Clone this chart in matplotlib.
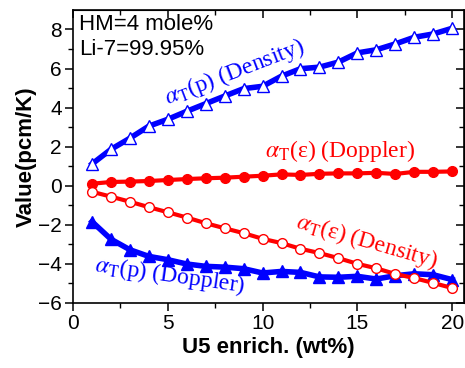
import matplotlib
matplotlib.use("Agg")
import matplotlib.pyplot as plt
import numpy as np

plt.rcParams["mathtext.fontset"] = "stix"

enrich = list(range(1, 21))
density_p = [1.11, 1.86, 2.43, 3.05, 3.40, 3.81, 4.20, 4.59, 4.97, 5.09,
             5.61, 5.99, 6.07, 6.33, 6.80, 6.96, 7.26, 7.60, 7.77, 8.06]
doppler_e = [0.10, 0.19, 0.21, 0.24, 0.29, 0.34, 0.38, 0.41, 0.46, 0.51,
             0.58, 0.55, 0.61, 0.63, 0.63, 0.66, 0.60, 0.71, 0.71, 0.73]
density_e = [-0.31, -0.56, -0.82, -1.10, -1.36, -1.63, -1.92, -2.18, -2.43, -2.72,
             -2.94, -3.23, -3.45, -3.71, -4.00, -4.23, -4.52, -4.73, -4.98, -5.24]
doppler_p = [-1.84, -2.74, -3.28, -3.62, -3.79, -4.01, -4.13, -4.17, -4.25, -4.47,
             -4.39, -4.44, -4.67, -4.69, -4.64, -4.78, -4.61, -4.51, -4.56, -4.81]

blue = "#0000ff"
red = "#ff0000"

fig = plt.figure(figsize=(4.65, 3.68), dpi=100)
ax = fig.add_axes([0.157, 0.177, 0.841, 0.796])

ax.plot(enrich, density_p, color=blue, lw=4, marker="^", ms=8,
        mfc="white", mec=blue, mew=1.0, zorder=3)
ax.plot(enrich, doppler_p, color=blue, lw=4, marker="^", ms=8,
        mfc=blue, mec=blue, zorder=3)
ax.plot(enrich, doppler_e, color=red, lw=3, marker="o", ms=7,
        mfc=red, mec=red, zorder=4)
ax.plot(enrich, density_e, color=red, lw=3, marker="o", ms=7,
        mfc="white", mec=red, mew=1.0, zorder=4)

ax.set_xlim(0, 20.63)
ax.set_ylim(-6, 9)
ax.set_xticks([0, 5, 10, 15, 20])
ax.set_yticks([-6, -4, -2, 0, 2, 4, 6, 8])
ax.set_xticks(np.arange(2.5, 20.6, 5), minor=True)
ax.set_yticks(np.arange(-5, 9, 2), minor=True)

sans = "Liberation Sans"
serif = "Liberation Serif"
for lab in ax.get_xticklabels() + ax.get_yticklabels():
    lab.set_fontfamily(sans)
    lab.set_fontsize(15)
ax.tick_params(which="major", direction="out", length=6, width=1.1, pad=2)
ax.tick_params(which="minor", direction="out", length=3.5, width=1.0)
for s in ax.spines.values():
    s.set_linewidth(1.2)

top = ax.secondary_xaxis("top")
top.set_xticks([0, 5, 10, 15, 20])
top.set_xticks(np.arange(2.5, 20.6, 5), minor=True)
top.tick_params(which="major", direction="in", length=6, width=1.1, labeltop=False)
top.tick_params(which="minor", direction="in", length=3.5, width=1.0)
right = ax.secondary_yaxis("right")
right.set_yticks([-6, -4, -2, 0, 2, 4, 6, 8])
right.set_yticks(np.arange(-5, 9, 2), minor=True)
right.tick_params(which="major", direction="in", length=6, width=1.1, labelright=False)
right.tick_params(which="minor", direction="in", length=3.5, width=1.0)

ax.set_xlabel("U5 enrich. (wt%)", fontfamily=sans, fontsize=16,
              fontweight="bold", labelpad=3)
ax.set_ylabel("Value(pcm/K)", fontfamily=sans, fontsize=16,
              fontweight="bold", labelpad=1)

ax.text(0.015, 0.985, "HM=4 mole%\nLi-7=99.95%", transform=ax.transAxes,
        ha="left", va="top", fontfamily=sans, fontsize=16, linespacing=1.2)

fs = 17
ax.text(8.5, 5.8, r"$\alpha_{\rm T}$(p) (Density)", color=blue, fontfamily=serif,
        fontsize=fs, rotation=21, ha="center", va="center")
ax.text(14.1, 1.8, r"$\alpha_{\rm T}$(ε) (Doppler)", color=red, fontfamily=serif,
        fontsize=fs, rotation=0, ha="center", va="center")
ax.text(15.5, -2.85, r"$\alpha_{\rm T}$(ε) (Density)", color=red, fontfamily=serif,
        fontsize=fs, rotation=-16, ha="center", va="center")
ax.text(5.1, -4.6, r"$\alpha_{\rm T}$(p) (Doppler)", color=blue, fontfamily=serif,
        fontsize=fs, rotation=-8, ha="center", va="center")

fig.savefig("out.png", dpi=100)
